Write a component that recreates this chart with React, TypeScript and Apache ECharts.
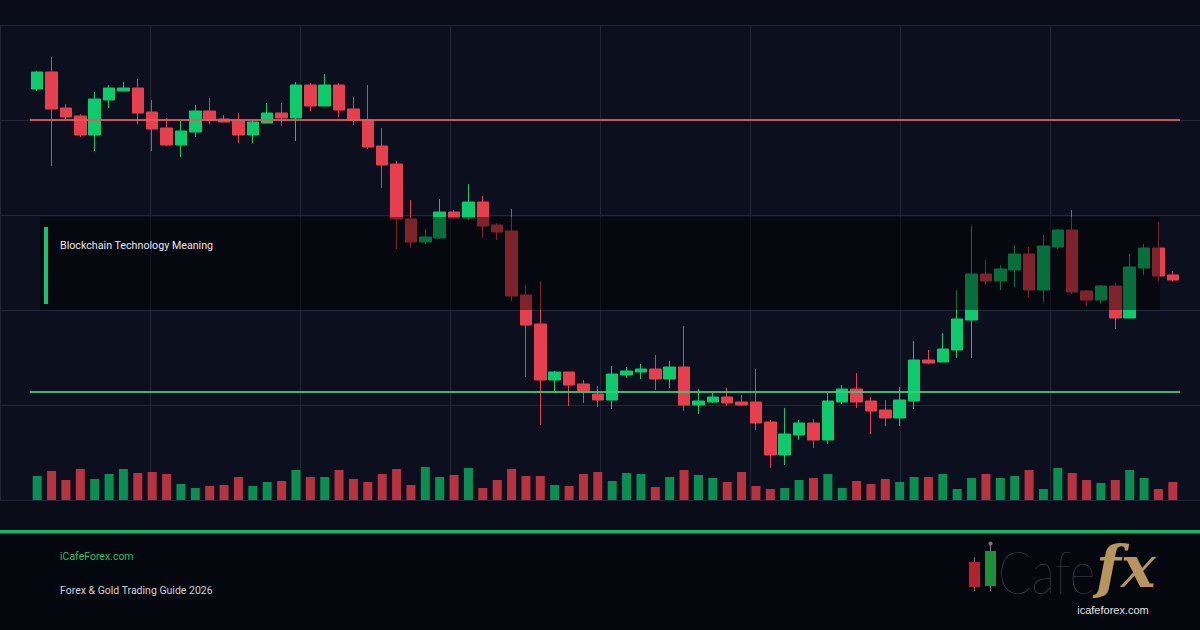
import React, { useEffect, useRef } from "react";
import * as echarts from "echarts";

// ---- Data (gold-like prices) ----
const openPrices = [
  2406, 2423, 2387, 2379, 2360, 2395, 2404, 2407, 2383, 2367,
  2350, 2363, 2384, 2376, 2374, 2360, 2372, 2382, 2377, 2410,
  2389, 2410, 2386, 2375, 2349, 2331, 2276, 2253, 2257, 2283,
  2277, 2293, 2270, 2264, 2200, 2171, 2115, 2123, 2111, 2101,
  2095, 2120, 2123, 2126, 2116, 2128, 2090, 2093, 2098, 2093,
  2093, 2073, 2040, 2060, 2072, 2055, 2093, 2106, 2094, 2085,
  2077, 2094, 2135, 2133, 2145, 2175, 2221, 2214, 2225, 2241,
  2205, 2248, 2265, 2204, 2195, 2209, 2177, 2227, 2247, 2220,
];
const closePrices = [
  2423, 2386, 2378, 2360, 2396, 2407, 2407, 2382, 2366, 2350,
  2364, 2384, 2375, 2373, 2360, 2373, 2382, 2377, 2410, 2389,
  2410, 2385, 2375, 2348, 2330, 2276, 2253, 2258, 2283, 2277,
  2293, 2269, 2263, 2199, 2170, 2115, 2123, 2110, 2104, 2095,
  2121, 2124, 2126, 2116, 2128, 2090, 2094, 2098, 2092, 2090,
  2072, 2040, 2061, 2072, 2055, 2094, 2106, 2093, 2084, 2077,
  2095, 2135, 2132, 2146, 2176, 2221, 2214, 2226, 2241, 2205,
  2249, 2265, 2203, 2195, 2209, 2177, 2228, 2247, 2219, 2215,
];
const lowPrices = [
  2404, 2329, 2376, 2358, 2344, 2387, 2404, 2371, 2344, 2349,
  2338, 2358, 2371, 2373, 2352, 2352, 2372, 2369, 2354, 2384,
  2389, 2378, 2370, 2346, 2307, 2246, 2247, 2251, 2256, 2276,
  2275, 2257, 2255, 2194, 2118, 2070, 2104, 2089, 2092, 2088,
  2086, 2117, 2116, 2105, 2107, 2084, 2081, 2092, 2089, 2090,
  2065, 2027, 2030, 2055, 2047, 2051, 2091, 2087, 2061, 2069,
  2069, 2086, 2131, 2133, 2137, 2137, 2210, 2205, 2208, 2198,
  2193, 2246, 2201, 2189, 2191, 2166, 2177, 2220, 2214, 2214,
];
const highPrices = [
  2424, 2438, 2391, 2381, 2403, 2410, 2413, 2416, 2395, 2377,
  2374, 2390, 2397, 2380, 2382, 2374, 2392, 2392, 2413, 2412,
  2421, 2412, 2398, 2410, 2367, 2334, 2295, 2266, 2296, 2285,
  2311, 2299, 2272, 2286, 2210, 2214, 2124, 2123, 2115, 2109,
  2129, 2128, 2131, 2140, 2134, 2169, 2106, 2102, 2107, 2100,
  2126, 2075, 2087, 2075, 2076, 2102, 2110, 2122, 2098, 2095,
  2108, 2154, 2145, 2162, 2205, 2269, 2235, 2230, 2250, 2248,
  2260, 2266, 2285, 2205, 2210, 2212, 2241, 2251, 2273, 2224,
];
const volumes = [
  2400, 2900, 2000, 3100, 2100, 2600, 3100, 2700, 2800, 2600,
  1600, 1200, 1400, 1500, 2300, 1400, 1800, 1900, 3000, 2300,
  2300, 3000, 2100, 1800, 2600, 3100, 1500, 3300, 2300, 2500,
  3200, 1200, 2000, 3100, 2400, 2400, 1500, 1400, 2600, 2800,
  1900, 2700, 2600, 1300, 2300, 3000, 2500, 2200, 1800, 2800,
  1400, 1100, 1200, 2000, 2200, 2600, 1200, 1900, 1600, 2100,
  1800, 2300, 2300, 2600, 1100, 2200, 2600, 2200, 2400, 3000,
  1100, 3200, 2700, 2000, 1700, 2000, 3000, 2200, 1100, 1800,
];
const categories = openPrices.map((_, i) => `Bar ${i + 1}`);
const resistanceLevel = 2375;
const supportLevel = 2103;

const UP = "#0dcb6c";
const DOWN = "#e6404f";
const VOL_UP = "#0a8e51";
const VOL_DOWN = "#b7333f";
const GRID_LINE = "#212737";
const UI_FONT = "Roboto, 'Noto Sans', sans-serif";

export default function App() {
  const ref = useRef<HTMLDivElement>(null);

  useEffect(() => {
    if (!ref.current) return;
    const chart = echarts.init(ref.current, undefined, { renderer: "svg" });

    const candleData = openPrices.map((o, i) => [o, closePrices[i], lowPrices[i], highPrices[i]]);
    const volumeData = volumes.map((v, i) => ({
      value: v,
      itemStyle: { color: closePrices[i] >= openPrices[i] ? VOL_UP : VOL_DOWN },
    }));

    const hiddenAxis = {
      axisLine: { show: false },
      axisTick: { show: false },
      axisLabel: { show: false },
    };

    chart.setOption({
      animation: false,
      backgroundColor: "#090c17",
      grid: [
        { left: 0, right: 0, top: 25, bottom: 130, show: true, backgroundColor: "#0c101e", borderWidth: 0 },
        { left: 30, right: 20, top: 25, bottom: 130 },
        { left: 30, right: 20, top: 460, bottom: 130 },
      ],
      xAxis: [
        {
          type: "value", gridIndex: 0, min: 0, max: 8, interval: 1, ...hiddenAxis,
          splitLine: { show: true, lineStyle: { color: GRID_LINE, width: 1 } },
        },
        { type: "category", gridIndex: 1, data: categories, boundaryGap: true, show: false },
        { type: "category", gridIndex: 2, data: categories, boundaryGap: true, show: false },
      ],
      yAxis: [
        {
          type: "value", gridIndex: 0, min: 0, max: 5, interval: 1, ...hiddenAxis,
          splitLine: { show: true, lineStyle: { color: GRID_LINE, width: 1 } },
        },
        { type: "value", gridIndex: 1, min: 1995, max: 2470, show: false, splitLine: { show: false } },
        { type: "value", gridIndex: 2, min: 0, max: 4000, show: false, splitLine: { show: false } },
      ],
      series: [
        {
          type: "bar",
          xAxisIndex: 2,
          yAxisIndex: 2,
          barWidth: 9,
          data: volumeData,
        },
        {
          type: "candlestick",
          xAxisIndex: 1,
          yAxisIndex: 1,
          barWidth: 12,
          data: candleData,
          itemStyle: {
            color: UP,
            color0: DOWN,
            borderColor: UP,
            borderColor0: DOWN,
            borderWidth: 1,
          },
          markLine: {
            silent: true,
            symbol: ["none", "none"],
            label: { show: false },
            emphasis: { disabled: true },
            data: [
              { yAxis: resistanceLevel, lineStyle: { color: "#df5a5e", width: 2, type: "solid", opacity: 0.9 } },
              { yAxis: supportLevel, lineStyle: { color: "#38cc7c", width: 2, type: "solid", opacity: 0.9 } },
            ],
          },
        },
      ],
      graphic: [
        { type: "rect", z: 1, shape: { x: 0, y: 532, width: 1200, height: 98 }, style: { fill: "#05070e" } },
        { type: "rect", z: 5, shape: { x: 0, y: 530, width: 1200, height: 3.5 }, style: { fill: "#13b56b" } },
        { type: "rect", z: 100, shape: { x: 40, y: 217, width: 1120, height: 93 }, style: { fill: "rgba(0,0,0,0.45)" } },
        { type: "rect", z: 101, shape: { x: 44, y: 227, width: 4, height: 77 }, style: { fill: "#12c46d" } },
        {
          type: "text", z: 101, x: 60, y: 245,
          style: { text: "Blockchain Technology Meaning", fill: "#e4e6ec", fontSize: 10.7, fontFamily: UI_FONT, textVerticalAlign: "middle", verticalAlign: "middle" },
        },
        {
          type: "text", z: 101, x: 60, y: 556,
          style: { text: "iCafeForex.com", fill: "#22c06c", fontSize: 10.5, fontFamily: UI_FONT, textVerticalAlign: "middle", verticalAlign: "middle" },
        },
        {
          type: "text", z: 101, x: 60, y: 590,
          style: { text: "Forex & Gold Trading Guide 2026", fill: "#cfd2d8", fontSize: 10.5, fontFamily: UI_FONT, textVerticalAlign: "middle", verticalAlign: "middle" },
        },
        // logo: candle icon
        { type: "line", z: 101, shape: { x1: 974.5, y1: 557, x2: 974.5, y2: 591 }, style: { stroke: "#7a7a7a", lineWidth: 1 } },
        { type: "rect", z: 102, shape: { x: 969, y: 562, width: 11, height: 25 }, style: { fill: "#b4232d" } },
        { type: "line", z: 101, shape: { x1: 990.5, y1: 544, x2: 990.5, y2: 591 }, style: { stroke: "#7a7a7a", lineWidth: 1 } },
        { type: "circle", z: 101, shape: { cx: 990.5, cy: 543.5, r: 2 }, style: { fill: "#7a7a7a" } },
        { type: "rect", z: 102, shape: { x: 985, y: 551, width: 11, height: 35 }, style: { fill: "#1f8f3b" } },
        {
          type: "text", z: 101, x: 998, y: 571, scaleX: 0.82,
          style: { text: "Cafe", fill: "#4e4e50", fontSize: 60, fontWeight: 200, fontFamily: "Lato, 'Open Sans', sans-serif", textVerticalAlign: "middle", verticalAlign: "middle" },
        },
        {
          type: "text", z: 103, x: 1096, y: 567,
          style: { text: "fx", fill: "#b8955c", fontSize: 58, fontWeight: "bold", fontStyle: "italic", fontFamily: "'DejaVu Serif', 'Liberation Serif', serif", textVerticalAlign: "middle", verticalAlign: "middle" },
        },
        {
          type: "text", z: 104, x: 1113, y: 610,
          style: { text: "icafeforex.com", fill: "#e2e2e2", fontSize: 11, fontFamily: "'Liberation Sans', Arial, sans-serif", textAlign: "center", align: "center", textVerticalAlign: "middle", verticalAlign: "middle" },
        },
      ],
    });

    return () => chart.dispose();
  }, []);

  return (
    <div
      ref={ref}
      style={{ position: "fixed", left: 0, top: 0, width: 1200, height: 630 }}
    />
  );
}
